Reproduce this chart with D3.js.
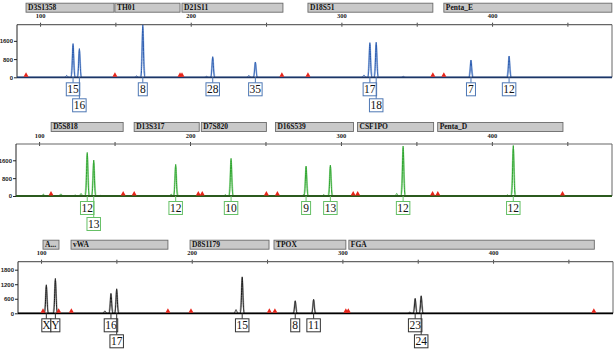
<!DOCTYPE html>
<html><head><meta charset="utf-8">
<script src="https://cdn.jsdelivr.net/npm/d3@7"></script>
<style>body{margin:0;background:#fff}svg{display:block}</style>
</head><body>
<script>
// ---------- DATA ----------
const xTicks = [100,150,200,250,300,350,400,450];
const xTickLabels = ["100","","200","","300","","400",""];

// Panel 1 (blue)
const p1Markers = ["D3S1358","TH01","D21S11","D18S51","Penta_E"];
const p1MarkerStart = [90.7,149.7,194.2,277.8,368.0];
const p1MarkerEnd   = [149.1,192.9,261.2,360.7,479.5];
const p1Alleles = ["15","16","8","28","35","17","18","7","12"];
const p1AlleleSize = [121.9,126.1,168.2,214.6,242.9,318.9,323.1,386.0,411.3];
const p1AlleleHeight = [1480,1260,2300,906,673,1521,1539,760,936];
const p1AlleleRow = [0,1,0,0,0,0,1,0,0];
const p1MinorSize = [117.7,164.1,210.5,238.6,315.0,341.1];
const p1MinorHeight = [80,60,40,80,100,40];
const p1Ladder = [90.7,149.7,192.9,194.2,260.5,277.8,360.7,368.0];
const p1YTicks = [0,800,1600];

// Panel 2 (green)
const p2Markers = ["D5S818","D13S317","D7S820","D16S539","CSF1PO","Penta_D"];
const p2MarkerStart = [108.0,163.0,207.5,256.6,311.0,364.1];
const p2MarkerEnd   = [155.7,206.1,250.6,308.3,361.4,447.1];
const p2Alleles = ["12","13","12","10","9","13","12","12"];
const p2AlleleSize = [131.9,136.2,190.5,227.2,276.9,293.0,341.2,414.2];
const p2AlleleHeight = [1950,1610,1417,1685,1341,1386,2235,2260];
const p2AlleleRow = [0,1,0,0,0,0,0,0];
const p2MinorSize = [102.8,113.9,114.9,123.9,127.8,140.4,187.5,223.4,275.1,288.6,337.0,410.3];
const p2MinorHeight = [80,60,60,40,110,30,80,60,50,60,110,50];
const p2Ladder = [107.9,155.7,163.0,205.5,208.1,250.6,257.9,308.1,311.1,360.7,364.2,446.8];
const p2YTicks = [0,800,1600];

// Panel 3 (black)
const p3Markers = ["A...","vWA","D8S1179","TPOX","FGA"];
const p3MarkerStart = [101.3,119.9,198.9,254.6,304.3];
const p3MarkerEnd   = [111.9,184.2,251.3,302.3,467.2];
const p3Alleles = ["X","Y","16","17","15","8","11","23","24"];
const p3AlleleSize = [103.5,109.5,146.4,150.2,233.5,268.7,280.9,348.3,352.3];
const p3AlleleHeight = [1176,1438,822,1011,1504,518,575,616,723];
const p3AlleleRow = [0,0,0,1,0,0,0,0,1];
const p3MinorSize = [142.4,229.4,344.8];
const p3MinorHeight = [100,150,50];
const p3Ladder = [101.3,111.7,120.1,184.2,199.5,251.5,255.2,302.3,303.9,466.9];
const p3YTicks = [0,600,1200,1800];

// ---------- LAYOUT / STYLE ----------
const W = 616, H = 357;
const xDomain = [84.7, 479.6];
const panels = [
  {top:24.7, base:77.3, left:17, right:612, ymax:2310,
   markers:p1Markers, ms:p1MarkerStart, me:p1MarkerEnd,
   alleles:p1Alleles, as:p1AlleleSize, ah:p1AlleleHeight, ar:p1AlleleRow,
   minS:p1MinorSize, minH:p1MinorHeight, ladder:p1Ladder, yt:p1YTicks,
   dark:"#2a5bb0", light:"#a9c1e6", box:"#4f78b4", baseCol:"#1c3566"},
  {top:144, base:196, left:16, right:612, ymax:2330,
   markers:p2Markers, ms:p2MarkerStart, me:p2MarkerEnd,
   alleles:p2Alleles, as:p2AlleleSize, ah:p2AlleleHeight, ar:p2AlleleRow,
   minS:p2MinorSize, minH:p2MinorHeight, ladder:p2Ladder, yt:p2YTicks,
   dark:"#2fa52f", light:"#a8e0a8", box:"#66c066", baseCol:"#2b5a1e"},
  {top:261.7, base:313.3, left:18, right:613, ymax:2130,
   markers:p3Markers, ms:p3MarkerStart, me:p3MarkerEnd,
   alleles:p3Alleles, as:p3AlleleSize, ah:p3AlleleHeight, ar:p3AlleleRow,
   minS:p3MinorSize, minH:p3MinorHeight, ladder:p3Ladder, yt:p3YTicks,
   dark:"#1a1a1a", light:"#b5b5b5", box:"#333", baseCol:"#000"}
];

const svg = d3.select("body").append("svg").attr("width",W).attr("height",H);

panels.forEach(p => {
  const g = svg.append("g");
  const x = d3.scaleLinear().domain(xDomain).range([p.left, p.right]);
  const y = d3.scaleLinear().domain([0, p.ymax]).range([p.base, p.top]);

  // marker bins
  p.markers.forEach((m,i) => {
    const x0 = x(p.ms[i]), x1 = x(p.me[i]);
    g.append("rect").attr("x",x0).attr("y",p.top-21.5).attr("width",x1-x0).attr("height",9)
      .attr("fill","#c9c9c9").attr("stroke","#6a6a6a").attr("stroke-width",0.9);
    g.append("text").attr("x",x0+2).attr("y",p.top-14.6).text(m)
      .attr("font-family","Liberation Serif").attr("font-weight","bold").attr("font-size",7.5).attr("fill","#111");
  });

  // top axis
  const ax = d3.axisTop(x).tickValues(xTicks).tickSize(2)
      .tickFormat((d,i)=>xTickLabels[i]);
  const axg = g.append("g").attr("transform",`translate(0,${p.top})`).call(ax);
  axg.select(".domain").remove();
  axg.selectAll("line").attr("y1",2).attr("stroke","#444");
  axg.selectAll("text").attr("font-family","Liberation Serif").attr("font-weight","bold")
     .attr("font-size",6.5).attr("fill","#222").attr("dy",-1.5);

  // frame
  g.append("line").attr("x1",p.left).attr("x2",p.right).attr("y1",p.top).attr("y2",p.top)
    .attr("stroke","#666").attr("stroke-width",1.2);
  g.append("line").attr("x1",p.right).attr("x2",p.right).attr("y1",p.top).attr("y2",p.base)
    .attr("stroke","#666").attr("stroke-width",1);

  // left axis
  const ay = d3.axisLeft(y).tickValues(p.yt).tickSize(3).tickFormat(d3.format("d"));
  const ayg = g.append("g").attr("transform",`translate(${p.left},0)`).call(ay);
  ayg.select(".domain").attr("stroke","#222").attr("d",`M0,${p.top}V${p.base}`);
  ayg.selectAll("line").attr("stroke","#222");
  ayg.selectAll("text").attr("font-family","Liberation Sans").attr("font-weight","bold")
     .attr("font-size",6).attr("fill","#222").attr("x",-4);

  // trace
  const peaks = [];
  p.as.forEach((s,i)=>peaks.push({s, h:p.ah[i], sd:0.42}));
  p.minS.forEach((s,i)=>peaks.push({s, h:p.minH[i], sd:0.5}));
  const pts = [];
  for (let s = xDomain[0]; s <= xDomain[1]; s += 0.05) {
    let v = 0;
    peaks.forEach(k => { const d=(s-k.s)/k.sd; if (Math.abs(d)<6) v += k.h*Math.exp(-0.5*d*d); });
    pts.push([s, Math.min(v, p.ymax)]);
  }
  const line = d3.line().x(d=>x(d[0])).y(d=>y(d[1]));
  // light halo for called alleles
  p.as.forEach((s,i)=>{
    const hp = [];
    for (let t = s-1.5; t <= s+1.5; t += 0.05) {
      const d=(t-s)/0.55; hp.push([t, Math.min(p.ah[i]*0.93*Math.exp(-0.5*d*d), p.ymax)]);
    }
    g.append("path").attr("d",line(hp)).attr("fill","none").attr("stroke",p.light).attr("stroke-width",1.6);
  });
  g.append("path").attr("d",line(pts)).attr("fill","none").attr("stroke",p.dark).attr("stroke-width",1);
  // baseline
  g.append("line").attr("x1",p.left).attr("x2",p.right).attr("y1",p.base).attr("y2",p.base)
    .attr("stroke",p.baseCol).attr("stroke-width",1.8);

  // ladder markers
  p.ladder.forEach(s=>{
    const cx = x(s);
    g.append("path").attr("d",`M${cx-2.5},${p.base-0.5}L${cx},${p.base-5}L${cx+2.5},${p.base-0.5}Z`)
      .attr("fill","#e8251b");
  });

  // allele labels
  p.alleles.forEach((a,i)=>{
    const cx = x(p.as[i]);
    const w = a.length > 1 ? 13.5 : 9;
    const by = p.base + 5.5 + p.ar[i]*16;
    g.append("line").attr("x1",cx).attr("x2",cx).attr("y1",p.base).attr("y2",by)
      .attr("stroke",p.box).attr("stroke-width",1);
    g.append("rect").attr("x",cx-w/2).attr("y",by).attr("width",w).attr("height",13)
      .attr("fill","#fff").attr("stroke",p.box).attr("stroke-width",1);
    g.append("text").attr("x",cx).attr("y",by+10.5).attr("text-anchor","middle").text(a)
      .attr("font-family","Liberation Serif").attr("font-size",11.5).attr("fill","#111");
  });
});
</script>
</body></html>
